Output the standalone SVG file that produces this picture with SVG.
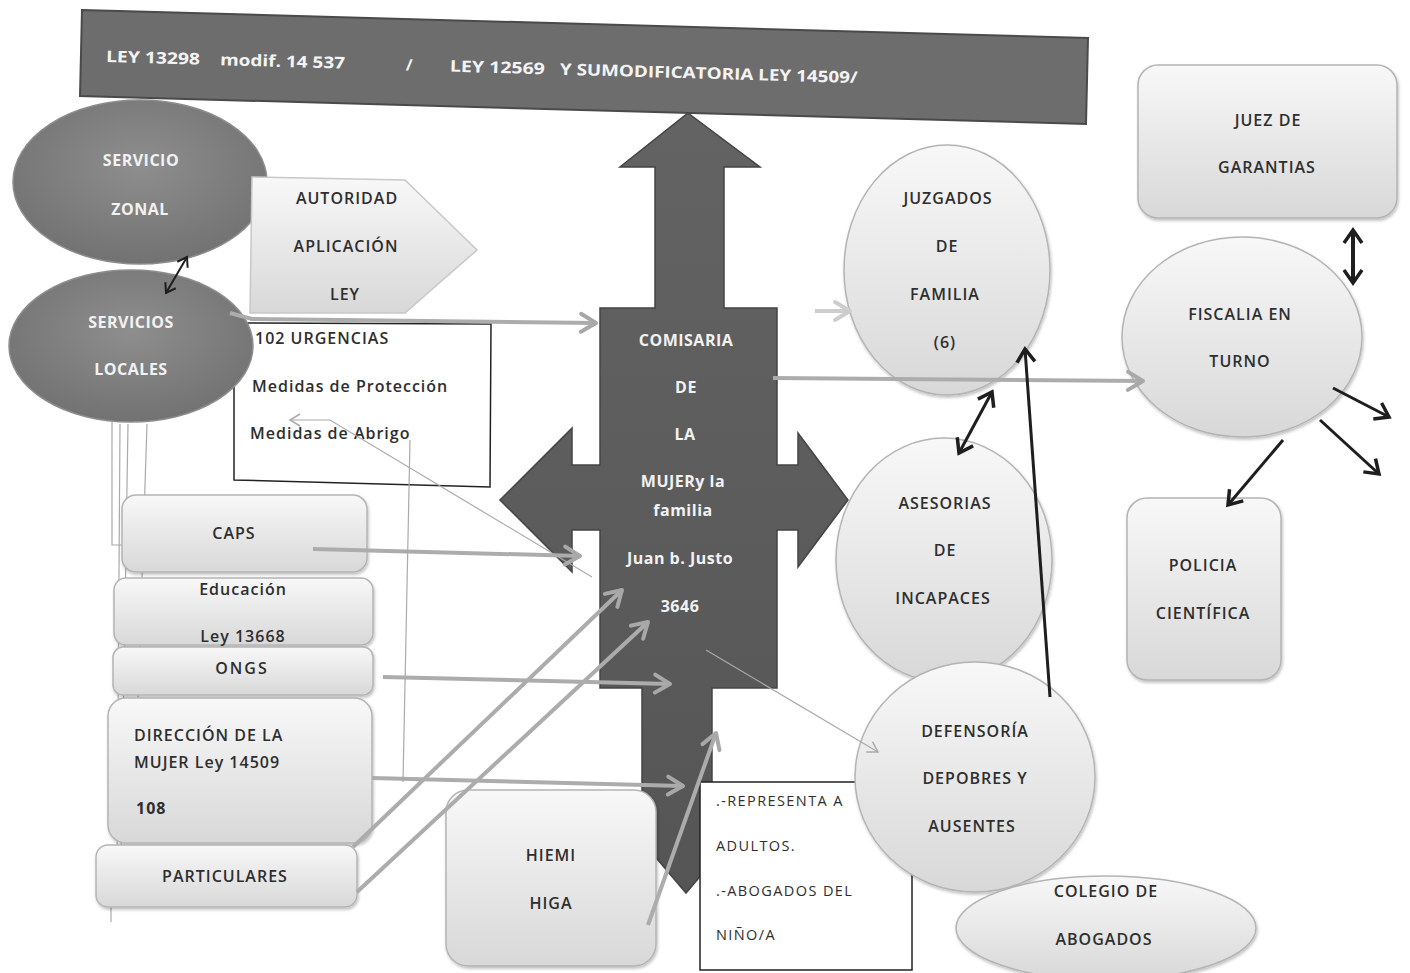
<svg xmlns="http://www.w3.org/2000/svg" width="1410" height="973" viewBox="0 0 1410 973">
<style>
.lbl{font-family:"Open Sans","Noto Sans",sans-serif;font-size:16px;font-weight:600;fill:#2e2e2e;text-anchor:middle;dominant-baseline:central;letter-spacing:1px}
.lft{text-anchor:start}
.sm{font-size:14.5px;font-weight:normal;letter-spacing:1.4px}
.wht{font-family:"Open Sans","Noto Sans",sans-serif;font-size:16px;font-weight:bold;fill:#f2f2f2;text-anchor:middle;dominant-baseline:central;letter-spacing:0.5px}
.ban{font-family:"Open Sans","Noto Sans",sans-serif;font-size:16px;font-weight:bold;fill:#f4f4f4}
.lite{fill:url(#gl);stroke:#b4b4b4;stroke-width:1.5;filter:url(#sh)}
.dark{fill:url(#gd);stroke:#8d8d8d;stroke-width:1.5}
.box{fill:#fff;stroke:#222;stroke-width:1.5}
.gc{fill:none;stroke:#acacac;stroke-width:4;marker-end:url(#gch)}
.tn{fill:none;stroke:#aaa;stroke-width:1.2}
.bk{fill:none;stroke:#1e1e1e;stroke-width:3}
</style>
<defs>
<linearGradient id="gl" x1="0" y1="0" x2="0" y2="1"><stop offset="0" stop-color="#f8f8f8"/><stop offset="1" stop-color="#d8d8d8"/></linearGradient>
<radialGradient id="gd" cx="0.5" cy="0.4" r="0.6"><stop offset="0" stop-color="#8e8e8e"/><stop offset="1" stop-color="#727272"/></radialGradient>
<linearGradient id="gx" x1="0" y1="0" x2="0" y2="1"><stop offset="0" stop-color="#636363"/><stop offset="1" stop-color="#555"/></linearGradient>
<filter id="sh" x="-10%" y="-10%" width="120%" height="130%"><feDropShadow dx="1" dy="2" stdDeviation="1.5" flood-color="#000" flood-opacity="0.25"/></filter>
<marker id="gch" markerUnits="userSpaceOnUse" markerWidth="26" markerHeight="26" viewBox="0 0 26 26" refX="22" refY="13" orient="auto"><path d="M7,4 L22,13 L7,22" fill="none" stroke="#a8a8a8" stroke-width="4" stroke-linecap="round" stroke-linejoin="round"/></marker>
<marker id="gcl" markerUnits="userSpaceOnUse" markerWidth="26" markerHeight="26" viewBox="0 0 26 26" refX="22" refY="13" orient="auto"><path d="M7,4 L22,13 L7,22" fill="none" stroke="#cdcdcd" stroke-width="4" stroke-linecap="round" stroke-linejoin="round"/></marker>
<marker id="th" markerUnits="userSpaceOnUse" markerWidth="16" markerHeight="16" viewBox="0 0 16 16" refX="13" refY="8" orient="auto"><path d="M3,2 L13,8 L3,14" fill="none" stroke="#aaa" stroke-width="1.5"/></marker>
<marker id="bh" markerUnits="userSpaceOnUse" markerWidth="24" markerHeight="24" viewBox="0 0 24 24" refX="19" refY="12" orient="auto-start-reverse"><path d="M6,3 L19,12 L6,21" fill="none" stroke="#1e1e1e" stroke-width="3.5" stroke-linejoin="miter"/></marker>
<marker id="bs" markerUnits="userSpaceOnUse" markerWidth="16" markerHeight="16" viewBox="0 0 16 16" refX="13" refY="8" orient="auto-start-reverse"><path d="M4,2 L13,8 L4,14" fill="none" stroke="#1e1e1e" stroke-width="2"/></marker>
</defs>
<rect width="1410" height="973" fill="#fff"/>

<g id="banner">
<polygon points="82,10 1088,38 1086,124 80,96" fill="#6d6d6d" stroke="#4a4a4a" stroke-width="2"/>
<g transform="rotate(1.6 106 60)">
<text class="ban" x="106" y="62" textLength="94" lengthAdjust="spacingAndGlyphs">LEY 13298</text>
<text class="ban" x="220" y="62" textLength="125" lengthAdjust="spacingAndGlyphs">modif. 14 537</text>
<text class="ban" x="406" y="62">/</text>
<text class="ban" x="450" y="62" textLength="95" lengthAdjust="spacingAndGlyphs">LEY 12569</text>
<text class="ban" x="560" y="62" textLength="298" lengthAdjust="spacingAndGlyphs">Y SUMODIFICATORIA LEY 14509/</text>
</g>
</g>

<g id="comisaria">
<polygon points="688,113 760,167 724,167 724,308 777,308 777,465 798,465 798,433 848,500 798,567 798,530 777,530 777,688 712,688 712,820 748,820 686,893 624,820 642,820 642,688 600,688 600,530 572,530 572,572 500,500 572,428 572,465 600,465 600,308 655,308 655,167 620,167" fill="url(#gx)" stroke="#444" stroke-width="1.5"/>
<text class="wht" x="686" y="340">COMISARIA</text>
<text class="wht" x="686" y="387">DE</text>
<text class="wht" x="685" y="434">LA</text>
<text class="wht" x="683" y="481">MUJERy la</text>
<text class="wht" x="683" y="510">familia</text>
<text class="wht" x="680" y="558">Juan b. Justo</text>
<text class="wht" x="680" y="606">3646</text>
</g>

<g id="urgencias">
<polygon points="234,323 491,324 490,487 234,480" class="box"/>
<text class="lbl lft" x="255" y="338">102 URGENCIAS</text>
<text class="lbl lft" x="252" y="386">Medidas de Protección</text>
<text class="lbl lft" x="250" y="433">Medidas de Abrigo</text>
</g>

<g id="servicio-zonal">
<ellipse cx="140" cy="182" rx="127" ry="82" class="dark"/>
<text class="wht" x="141" y="160">SERVICIO</text>
<text class="wht" x="140" y="209">ZONAL</text>
</g>

<g id="servicios-locales">
<ellipse cx="131" cy="346" rx="122" ry="76" class="dark"/>
<text class="wht" x="131" y="322">SERVICIOS</text>
<text class="wht" x="131" y="369">LOCALES</text>
</g>

<g id="autoridad">
<polygon points="252,177 405,180 477,250 405,313 250,313" fill="url(#gl)" stroke="#c8c8c8" stroke-width="1.5"/>
<text class="lbl" x="347" y="198">AUTORIDAD</text>
<text class="lbl" x="346" y="246">APLICACIÓN</text>
<text class="lbl" x="345" y="294">LEY</text>
</g>

<g id="left-lines">
<path class="tn" d="M112,422 L112,545 L122,545"/>
<path class="tn" d="M120,424 L117,870"/>
<path class="tn" d="M128,424 L121,860"/>
<path class="tn" d="M147,424 L138,700"/>
<path class="tn" d="M111,905 L111,922"/>
</g>

<g id="caps">
<rect x="122" y="495" width="245" height="77" rx="14" class="lite"/>
<text class="lbl" x="234" y="533">CAPS</text>
</g>
<g id="educacion">
<rect x="114" y="578" width="259" height="67" rx="12" class="lite"/>
<text class="lbl" x="243" y="589">Educación</text>
<text class="lbl" x="243" y="636">Ley 13668</text>
</g>
<g id="ongs">
<rect x="113" y="647" width="260" height="48" rx="10" class="lite"/>
<text class="lbl" x="242" y="668" style="letter-spacing:2px">ONGS</text>
</g>
<g id="direccion">
<rect x="108" y="698" width="264" height="145" rx="18" class="lite"/>
<text class="lbl lft" x="134" y="735">DIRECCIÓN DE  LA</text>
<text class="lbl lft" x="134" y="762">MUJER Ley 14509</text>
<text class="lbl lft" x="136" y="808" style="font-weight:bold">108</text>
</g>
<g id="particulares">
<rect x="96" y="845" width="261" height="62" rx="12" class="lite"/>
<text class="lbl" x="225" y="876">PARTICULARES</text>
</g>

<g id="hiemi">
<rect x="446" y="790" width="210" height="176" rx="22" class="lite"/>
<text class="lbl" x="551" y="855">HIEMI</text>
<text class="lbl" x="551" y="903">HIGA</text>
</g>

<g id="representa">
<rect x="700" y="782" width="212" height="188" class="box"/>
<text class="lbl lft sm" x="716" y="800">.-REPRESENTA  A</text>
<text class="lbl lft sm" x="716" y="845">ADULTOS.</text>
<text class="lbl lft sm" x="716" y="890">.-ABOGADOS DEL</text>
<text class="lbl lft sm" x="716" y="934">NIÑO/A</text>
</g>

<g id="juzgados">
<ellipse cx="947" cy="270" rx="103" ry="125" class="lite"/>
<text class="lbl" x="948" y="198">JUZGADOS</text>
<text class="lbl" x="947" y="246">DE</text>
<text class="lbl" x="945" y="294">FAMILIA</text>
<text class="lbl" x="945" y="342">(6)</text>
</g>

<g id="asesorias">
<ellipse cx="944" cy="560" rx="108" ry="122" class="lite"/>
<text class="lbl" x="945" y="503">ASESORIAS</text>
<text class="lbl" x="945" y="550">DE</text>
<text class="lbl" x="943" y="598">INCAPACES</text>
</g>

<g id="defensoria">
<ellipse cx="975" cy="777" rx="120" ry="115" class="lite"/>
<text class="lbl" x="975" y="731">DEFENSORÍA</text>
<text class="lbl" x="975" y="778">DEPOBRES Y</text>
<text class="lbl" x="972" y="826">AUSENTES</text>
</g>

<g id="colegio">
<ellipse cx="1106" cy="928" rx="150" ry="52" class="lite"/>
<text class="lbl" x="1106" y="891">COLEGIO DE</text>
<text class="lbl" x="1104" y="939">ABOGADOS</text>
</g>

<g id="juez">
<rect x="1138" y="65" width="259" height="153" rx="20" class="lite"/>
<text class="lbl" x="1268" y="120">JUEZ DE</text>
<text class="lbl" x="1267" y="167">GARANTIAS</text>
</g>

<g id="fiscalia">
<ellipse cx="1242" cy="337" rx="120" ry="100" class="lite"/>
<text class="lbl" x="1240" y="314">FISCALIA EN</text>
<text class="lbl" x="1240" y="361">TURNO</text>
</g>

<g id="policia">
<rect x="1127" y="498" width="154" height="182" rx="20" class="lite"/>
<text class="lbl" x="1203" y="565">POLICIA</text>
<text class="lbl" x="1203" y="613">CIENTÍFICA</text>
</g>

<g id="connectors">
<path class="gc" d="M230,313 L252,319 L596,323"/>
<path class="gc" d="M815,311 L850,311" style="stroke:#cdcdcd;marker-end:url(#gcl)"/>
<path class="gc" d="M773,378 L1143,381"/>
<path class="gc" d="M313,549 L580,556"/>
<path class="gc" d="M383,677 L670,684"/>
<path class="gc" d="M372,778 L683,786"/>
<path class="gc" d="M353,847 L622,590"/>
<path class="gc" d="M357,892 L648,622"/>
<path class="gc" d="M648,925 L716,733"/>
<path class="tn" d="M592,577 L330,420 L290,420" marker-end="url(#th)"/>
<path class="tn" d="M706,650 L878,752" marker-end="url(#th)"/>
<path class="tn" d="M410,440 L403,782"/>
<path class="bk" d="M166,293 L187,257" style="stroke-width:2" marker-start="url(#bs)" marker-end="url(#bs)"/>
<path class="bk" d="M1353,230 L1353,283" style="stroke-width:4" marker-start="url(#bh)" marker-end="url(#bh)"/>
<path class="bk" d="M992,392 L959,453" marker-start="url(#bh)" marker-end="url(#bh)"/>
<path class="bk" d="M1050,697 L1025,349" marker-end="url(#bh)"/>
<path class="bk" d="M1333,388 L1389,417" marker-end="url(#bh)"/>
<path class="bk" d="M1320,420 L1379,474" marker-end="url(#bh)"/>
<path class="bk" d="M1283,440 L1228,505" marker-end="url(#bh)"/>
</g>
</svg>
